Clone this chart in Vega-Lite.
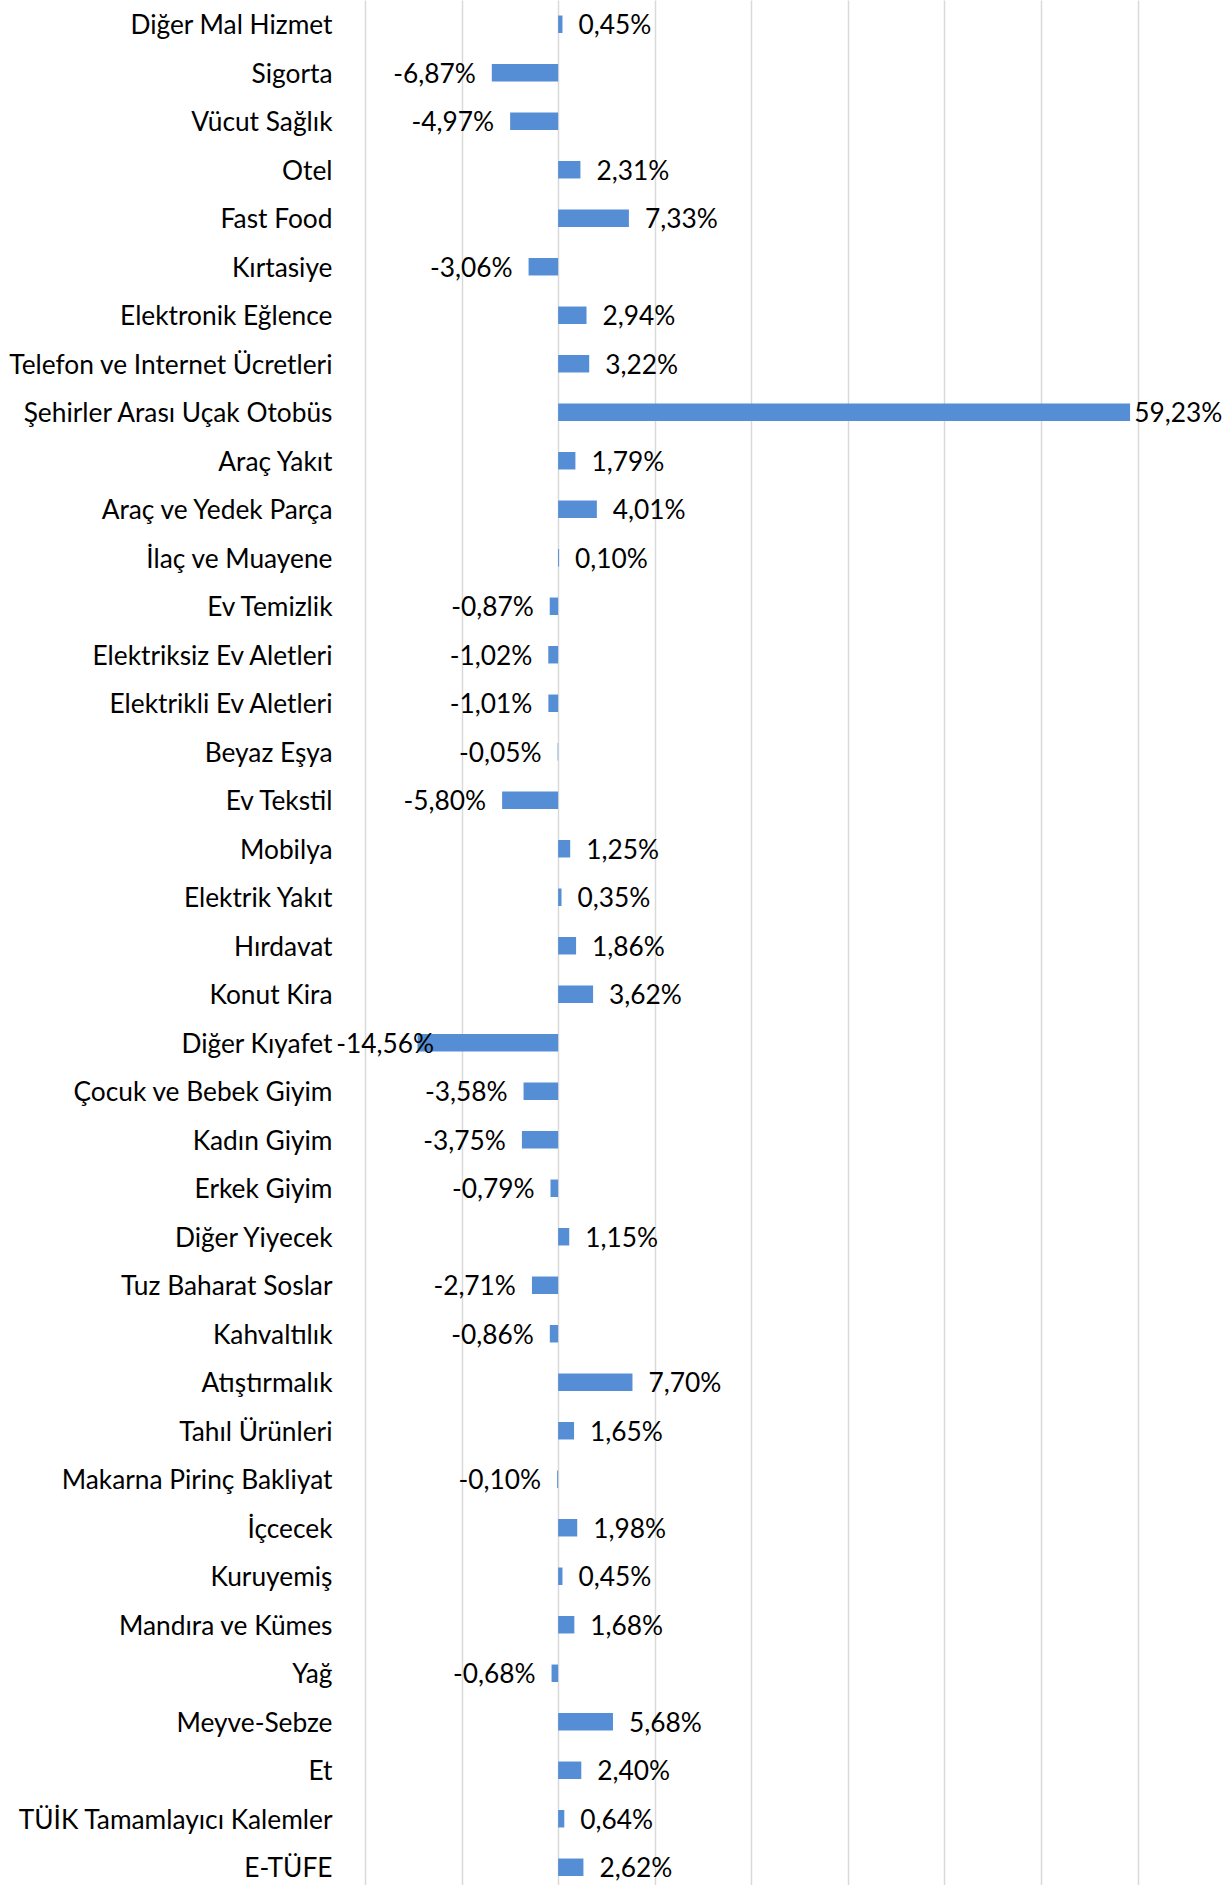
{
  "$schema": "https://vega.github.io/schema/vega-lite/v6.json",
  "width": 772.5,
  "height": 1891.5,
  "autosize": {"type": "none"},
  "padding": {"left": 365, "top": 0, "right": 91, "bottom": 0},
  "background": "white",
  "config": {"view": {"stroke": null}, "font": "Lato"},
  "data": {"values": [
    {"k": "Diğer Mal Hizmet", "v": 0.45},
    {"k": "Sigorta", "v": -6.87},
    {"k": "Vücut Sağlık", "v": -4.97},
    {"k": "Otel", "v": 2.31},
    {"k": "Fast Food", "v": 7.33},
    {"k": "Kırtasiye", "v": -3.06},
    {"k": "Elektronik Eğlence", "v": 2.94},
    {"k": "Telefon ve Internet Ücretleri", "v": 3.22},
    {"k": "Şehirler Arası Uçak Otobüs", "v": 59.23},
    {"k": "Araç Yakıt", "v": 1.79},
    {"k": "Araç ve Yedek Parça", "v": 4.01},
    {"k": "İlaç ve Muayene", "v": 0.10},
    {"k": "Ev Temizlik", "v": -0.87},
    {"k": "Elektriksiz Ev Aletleri", "v": -1.02},
    {"k": "Elektrikli Ev Aletleri", "v": -1.01},
    {"k": "Beyaz Eşya", "v": -0.05},
    {"k": "Ev Tekstil", "v": -5.80},
    {"k": "Mobilya", "v": 1.25},
    {"k": "Elektrik Yakıt", "v": 0.35},
    {"k": "Hırdavat", "v": 1.86},
    {"k": "Konut Kira", "v": 3.62},
    {"k": "Diğer Kıyafet", "v": -14.56},
    {"k": "Çocuk ve Bebek Giyim", "v": -3.58},
    {"k": "Kadın Giyim", "v": -3.75},
    {"k": "Erkek Giyim", "v": -0.79},
    {"k": "Diğer Yiyecek", "v": 1.15},
    {"k": "Tuz Baharat Soslar", "v": -2.71},
    {"k": "Kahvaltılık", "v": -0.86},
    {"k": "Atıştırmalık", "v": 7.70},
    {"k": "Tahıl Ürünleri", "v": 1.65},
    {"k": "Makarna Pirinç Bakliyat", "v": -0.10},
    {"k": "İçcecek", "v": 1.98},
    {"k": "Kuruyemiş", "v": 0.45},
    {"k": "Mandıra ve Kümes", "v": 1.68},
    {"k": "Yağ", "v": -0.68},
    {"k": "Meyve-Sebze", "v": 5.68},
    {"k": "Et", "v": 2.40},
    {"k": "TÜİK Tamamlayıcı Kalemler", "v": 0.64},
    {"k": "E-TÜFE", "v": 2.62}
  ]},
  "transform": [
    {"calculate": "(datum.v < 0 ? '-' : '') + replace(format(abs(datum.v), '.2f'), '.', ',') + '%'", "as": "lbl"},
    {"calculate": "clamp(datum.v, -11.2, 58)", "as": "lx"}
  ],
  "encoding": {
    "y": {
      "field": "k", "type": "nominal", "sort": null,
      "scale": {"paddingInner": 0.64, "paddingOuter": 0.32},
      "axis": {"title": null, "domain": false, "ticks": false, "grid": false, "labelPadding": 33, "labelOffset": 2, "labelFontSize": 26.3, "labelFont": "Lato", "labelColor": "#000000", "labelLimit": 0}
    }
  },
  "layer": [
    {
      "mark": {"type": "bar", "color": "#558ED5"},
      "encoding": {
        "x": {
          "field": "v", "type": "quantitative",
          "scale": {"domain": [-20, 60], "nice": false},
          "axis": {"values": [-20, -10, 0, 10, 20, 30, 40, 50, 60], "grid": true, "gridColor": "#d9d9d9", "gridWidth": 1.5, "labels": false, "ticks": false, "domain": false, "title": null}
        }
      }
    },
    {
      "transform": [{"filter": "datum.v >= 0"}],
      "mark": {"type": "text", "align": "left", "dx": 16, "dy": 2, "fontSize": 26.3, "font": "Lato", "color": "#000000"},
      "encoding": {"x": {"field": "lx", "type": "quantitative"}, "text": {"field": "lbl"}}
    },
    {
      "transform": [{"filter": "datum.v < 0"}],
      "mark": {"type": "text", "align": "right", "dx": -16, "dy": 2, "fontSize": 26.3, "font": "Lato", "color": "#000000"},
      "encoding": {"x": {"field": "lx", "type": "quantitative"}, "text": {"field": "lbl"}}
    }
  ]
}
